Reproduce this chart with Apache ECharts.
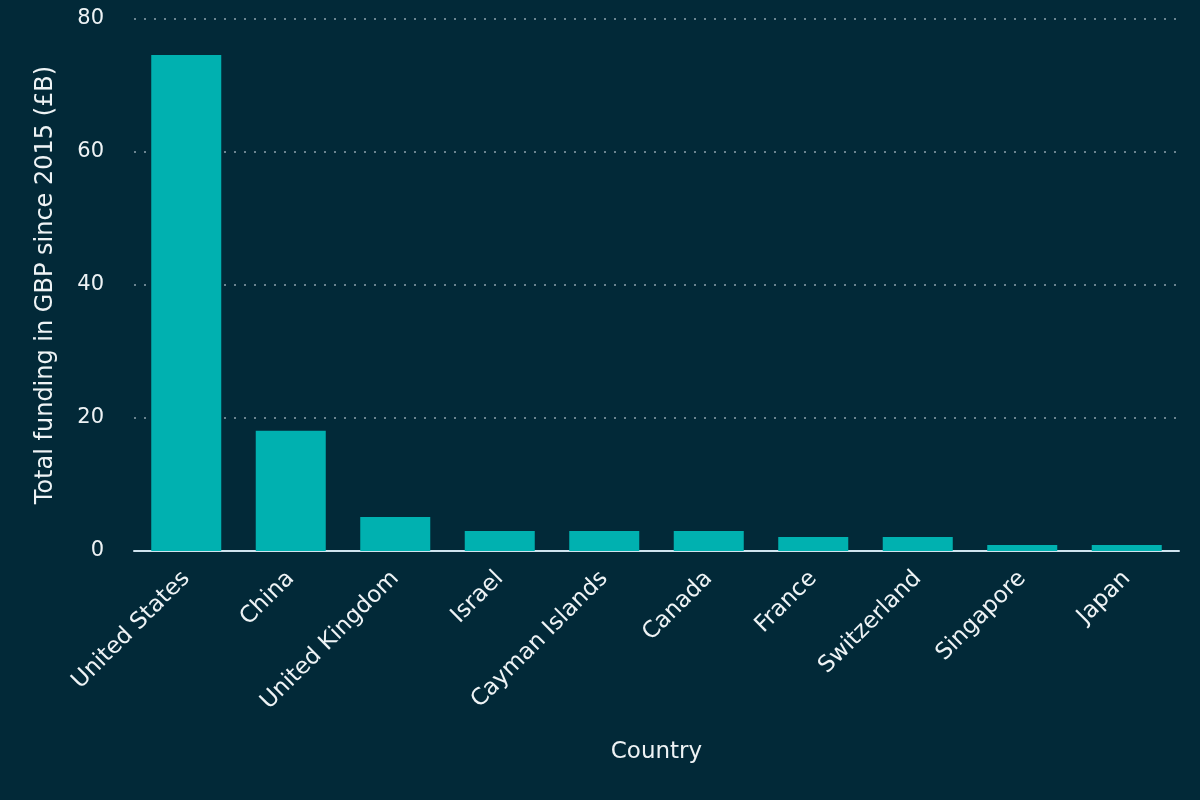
<!DOCTYPE html>
<html>
<head>
<meta charset="utf-8">
<script src="https://cdn.jsdelivr.net/npm/echarts@6/dist/echarts.min.js"></script>
<style>
  html, body { margin: 0; padding: 0; background: #022938; }
  #chart { width: 1200px; height: 800px; }
</style>
</head>
<body>
<div id="chart"></div>
<script>
// funding by country (GBP billions since 2015)
const countries = ['United States', 'China', 'United Kingdom', 'Israel', 'Cayman Islands',
  'Canada', 'France', 'Switzerland', 'Singapore', 'Japan'];
const funding = [74.6, 18.1, 5.1, 3.0, 3.0, 3.0, 2.1, 2.1, 0.9, 0.9];
const yTicks = [0, 20, 40, 60, 80];

const textColor = '#eef3f5';
const font = 'DejaVu Sans';

const chart = echarts.init(document.getElementById('chart'));
chart.setOption({
  backgroundColor: '#022938',
  animation: false,
  grid: { left: 134, right: 21, top: 19, bottom: 249 },
  xAxis: {
    type: 'category',
    data: countries,
    name: 'Country',
    nameLocation: 'middle',
    nameGap: 190,
    nameTextStyle: { color: textColor, fontSize: 23, fontFamily: font },
    axisLine: { lineStyle: { color: '#cfe3ee', width: 2 } },
    axisTick: { show: false },
    axisLabel: { color: textColor, fontSize: 23, fontFamily: font, rotate: 45, margin: 24, interval: 0 }
  },
  yAxis: {
    type: 'value',
    min: yTicks[0],
    max: yTicks[yTicks.length - 1],
    interval: 20,
    name: 'Total funding in GBP since 2015 (£B)',
    nameLocation: 'middle',
    nameGap: 76,
    nameTextStyle: { color: textColor, fontSize: 24, fontFamily: font },
    axisLine: { show: false },
    axisTick: { show: false },
    axisLabel: { color: textColor, fontSize: 21, fontFamily: font, margin: 30 },
    splitLine: { lineStyle: { color: '#8fa3ad', type: [2, 8], width: 1.5 } }
  },
  series: [{
    type: 'bar',
    data: funding,
    barCategoryGap: '33%',
    itemStyle: { color: '#00b1b0' }
  }]
});
</script>
</body>
</html>
